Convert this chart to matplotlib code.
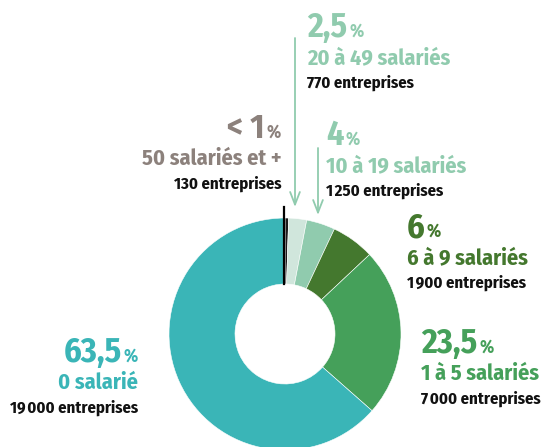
import matplotlib.pyplot as plt
from matplotlib import font_manager

# données (de 50 salariés et + jusqu'à 0 salarié, sens horaire depuis le haut)
parts = [0.5, 2.5, 4, 6, 23.5, 63.5]
pourcents = ["< 1", "2,5", "4", "6", "23,5", "63,5"]
tranches = ["50 salariés et +", "20 à 49 salariés", "10 à 19 salariés",
            "6 à 9 salariés", "1 à 5 salariés", "0 salarié"]
entreprises = ["130 entreprises", "770 entreprises", "1\u200a250 entreprises",
               "1\u200a900 entreprises", "7\u200a000 entreprises", "19\u200a000 entreprises"]
couleurs = ["#1a1a1a", "#d0e6dc", "#90cbae", "#44782e", "#45a05a", "#3ab5b7"]
couleurs_txt = ["#8c817c", "#90cbae", "#90cbae", "#44782e", "#45a05a", "#3ab5b7"]

# police condensée, comme l'original
noms = set(f.name for f in font_manager.fontManager.ttflist)
police = "DejaVu Sans"
for p in ["Fira Sans Condensed", "PT Sans Narrow", "Roboto Condensed",
          "Open Sans Condensed", "Archivo Narrow", "Liberation Sans Narrow"]:
    if p in noms:
        police = p
        break
plt.rcParams['font.family'] = [police, 'DejaVu Sans']

W, H = 544, 447
fig = plt.figure(figsize=(W / 100, H / 100), dpi=100)
ax = fig.add_axes([0, 0, 1, 1])

cx, cy = 285, H - 334
r_ext, r_int = 116, 50
ax.pie(parts, colors=couleurs, startangle=90, counterclock=False,
       center=(cx, cy), radius=r_ext, frame=True,
       wedgeprops=dict(width=r_ext - r_int, linewidth=0.4, edgecolor='white'))
ax.set_xlim(0, W)
ax.set_ylim(0, H)
ax.set_aspect('equal')
ax.axis('off')

# trait noir du "< 1 %"
ax.plot([284, 284], [H - 207, H - 284], color='black', lw=1.6, zorder=5)

# flèches
for x, y0, y1 in [(295, 38, 207), (318, 148, 215)]:
    ax.annotate("", xy=(x, H - y1), xytext=(x, H - y0),
                arrowprops=dict(arrowstyle='->,head_length=0.9,head_width=0.35',
                                color='#90cbae', lw=1.3, shrinkA=0, shrinkB=0))

# position (x, ligne de base du grand chiffre), alignement
positions = [(281, 138, 'right'), (307, 37, 'left'), (326, 145, 'left'),
             (407, 237, 'left'), (421, 353, 'left'), (138, 362, 'right')]

for i, (x, yb, ha) in enumerate(positions):
    c = couleurs_txt[i]
    if ha == 'left':
        t = ax.text(x, H - yb, pourcents[i], fontsize=24.5, fontweight='bold',
                    color=c, ha='left', va='baseline')
        fig.canvas.draw()
        bb = t.get_window_extent()
        ax.text(bb.x1 + 2, H - yb, "%", fontsize=13, fontweight='bold',
                color=c, ha='left', va='baseline')
    else:
        p = ax.text(x, H - yb, "%", fontsize=13, fontweight='bold',
                    color=c, ha='right', va='baseline')
        fig.canvas.draw()
        bb = p.get_window_extent()
        ax.text(bb.x0 - 2, H - yb, pourcents[i], fontsize=24.5, fontweight='bold',
                color=c, ha='right', va='baseline')
    ax.text(x, H - yb - 27, tranches[i], fontsize=16, fontweight='bold',
            color=c, ha=ha, va='baseline')
    ax.text(x, H - yb - 51, entreprises[i], fontsize=12, fontweight='bold',
            color='#111111', ha=ha, va='baseline')

fig.savefig("out.png", dpi=100)
